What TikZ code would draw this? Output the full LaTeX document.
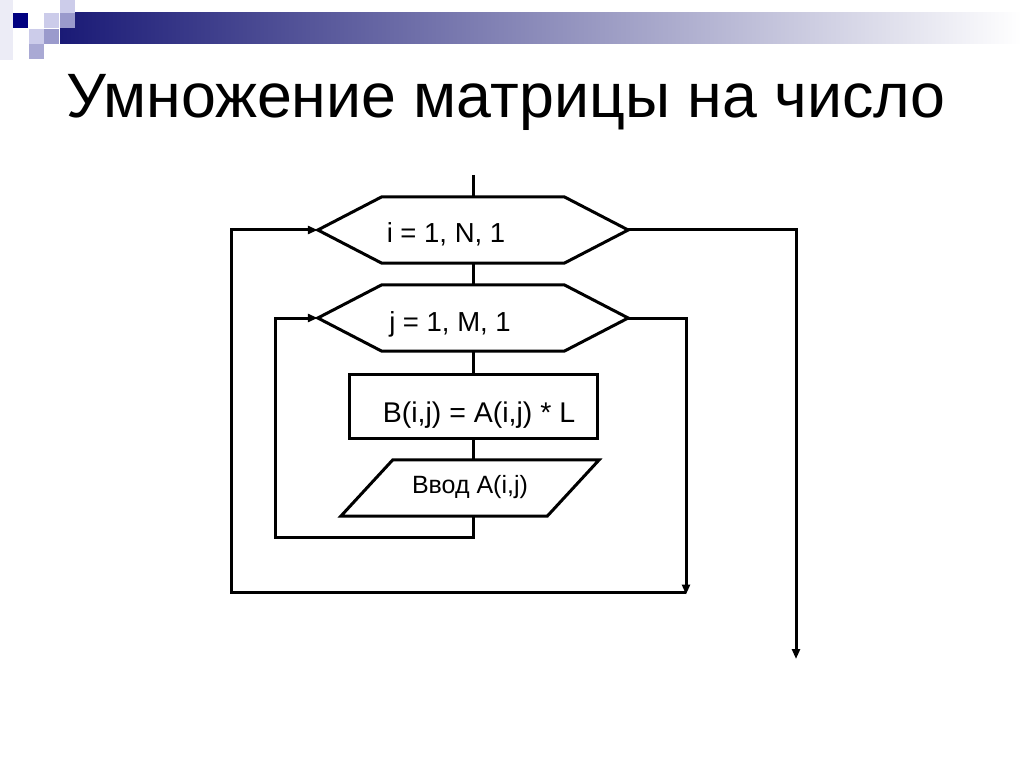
\documentclass[tikz,border=0pt]{standalone}
\usepackage{fontspec}
\setmainfont{Liberation Sans}
\usetikzlibrary{arrows.meta,calc}
\definecolor{navy}{RGB}{0,0,128}
\definecolor{barstart}{RGB}{26,26,118}
\definecolor{barmid}{RGB}{172,172,194}
\definecolor{sqlight}{RGB}{204,204,234}
\definecolor{sqmed}{RGB}{154,154,204}
\definecolor{sqfaint}{RGB}{236,236,246}
\tikzset{
  ln/.style={line width=3pt, line join=miter, draw=black},
  arr/.style={ln, -{Triangle[length=10pt,width=8pt]}},
  flat/.style={text height=0pt, text depth=0pt},
  hexbox/.style={flat, minimum width=310pt, minimum height=66pt, inner sep=0pt, font=\fontsize{27.5}{30}\selectfont},
  procbox/.style={flat, ln, rectangle, minimum width=248pt, minimum height=64pt, inner sep=0pt, font=\fontsize{28.5}{32}\selectfont},
  iobox/.style={flat, minimum width=258pt, minimum height=56pt, inner sep=0pt, font=\fontsize{25}{30}\selectfont},
  titletext/.style={font=\fontsize{62.7}{70}\selectfont, anchor=base west, inner sep=0pt}
}
\begin{document}
\begin{tikzpicture}[x=1pt,y=-1pt]
\useasboundingbox (0,0) rectangle (1024,767);
\fill[white] (0,0) rectangle (1024,767);
% header decoration
\fill[sqfaint] (0,0) rectangle (13,60);
\shade[left color=barstart, middle color=barmid, right color=white] (60,13) rectangle (1022,44);
\fill[navy] (13,13) rectangle (28,28);
\fill[sqlight] (44,13) rectangle (59,28);
\fill[sqlight] (60,0) rectangle (75,13);
\fill[sqmed] (60,13) rectangle (75,28);
\fill[sqlight] (29,29) rectangle (44,44);
\fill[sqmed] (44,29) rectangle (59,44);
\fill[sqmed!85] (29,44) rectangle (44,59);
% title
\node[titletext] (title) at (66,118) {Умножение матрицы на число};
% nodes
\node[hexbox] (h1) at (473,230) {\raisebox{-13pt}{i = 1, N, 1}\rule{54pt}{0pt}};
\node[hexbox] (h2) at (473,318) {\raisebox{-13pt}{j = 1, M, 1}\rule{46pt}{0pt}};
\node[procbox] (r) at (473,406) {\rule{12pt}{0pt}\raisebox{-16pt}{B(i,j) = A(i,j) * L}};
\node[iobox] (pa) at (470,488) {\raisebox{-5pt}{Ввод A(i,j)}};
% shapes
\foreach \h in {h1,h2}{
  \draw[ln] (\h.west) -- ([xshift=64pt]\h.north west) -- ([xshift=-64pt]\h.north east)
    -- (\h.east) -- ([xshift=-64pt]\h.south east) -- ([xshift=64pt]\h.south west) -- cycle;
}
\draw[ln] ([xshift=52pt]pa.north west) -- (pa.north east) -- ([xshift=-52pt]pa.south east)
  -- (pa.south west) -- cycle;
% connector coordinates
\coordinate (in) at (473,175);
\coordinate (pab) at (r.south |- pa.south);
\coordinate (ilb) at (473,537);
\coordinate (il) at (275,537);
\coordinate (ilt) at (275,318);
\coordinate (ir) at (686,318);
\coordinate (irb) at (686,592);
\coordinate (ob) at (231,592);
\coordinate (ot) at (231,230);
\coordinate (or) at (796,230);
\coordinate (oe) at (796,659);
% connectors
\draw[ln] (in) -- (h1.north);
\draw[ln] (h1.south) -- (h2.north);
\draw[ln] (h2.south) -- (r.north);
\draw[ln] (r.south) -- (r.south |- pa.north);
\draw[arr] (pab) -- (ilb) -- (il) -- (ilt) -- (h2.west);
\draw[arr, shorten >=-1pt] (h2.east) -- (ir) -- ([yshift=-1.5pt]irb);
\draw[arr] (irb) -- (ob) -- (ot) -- (h1.west);
\draw[arr] (h1.east) -- (or) -- (oe);
\end{tikzpicture}
\end{document}
